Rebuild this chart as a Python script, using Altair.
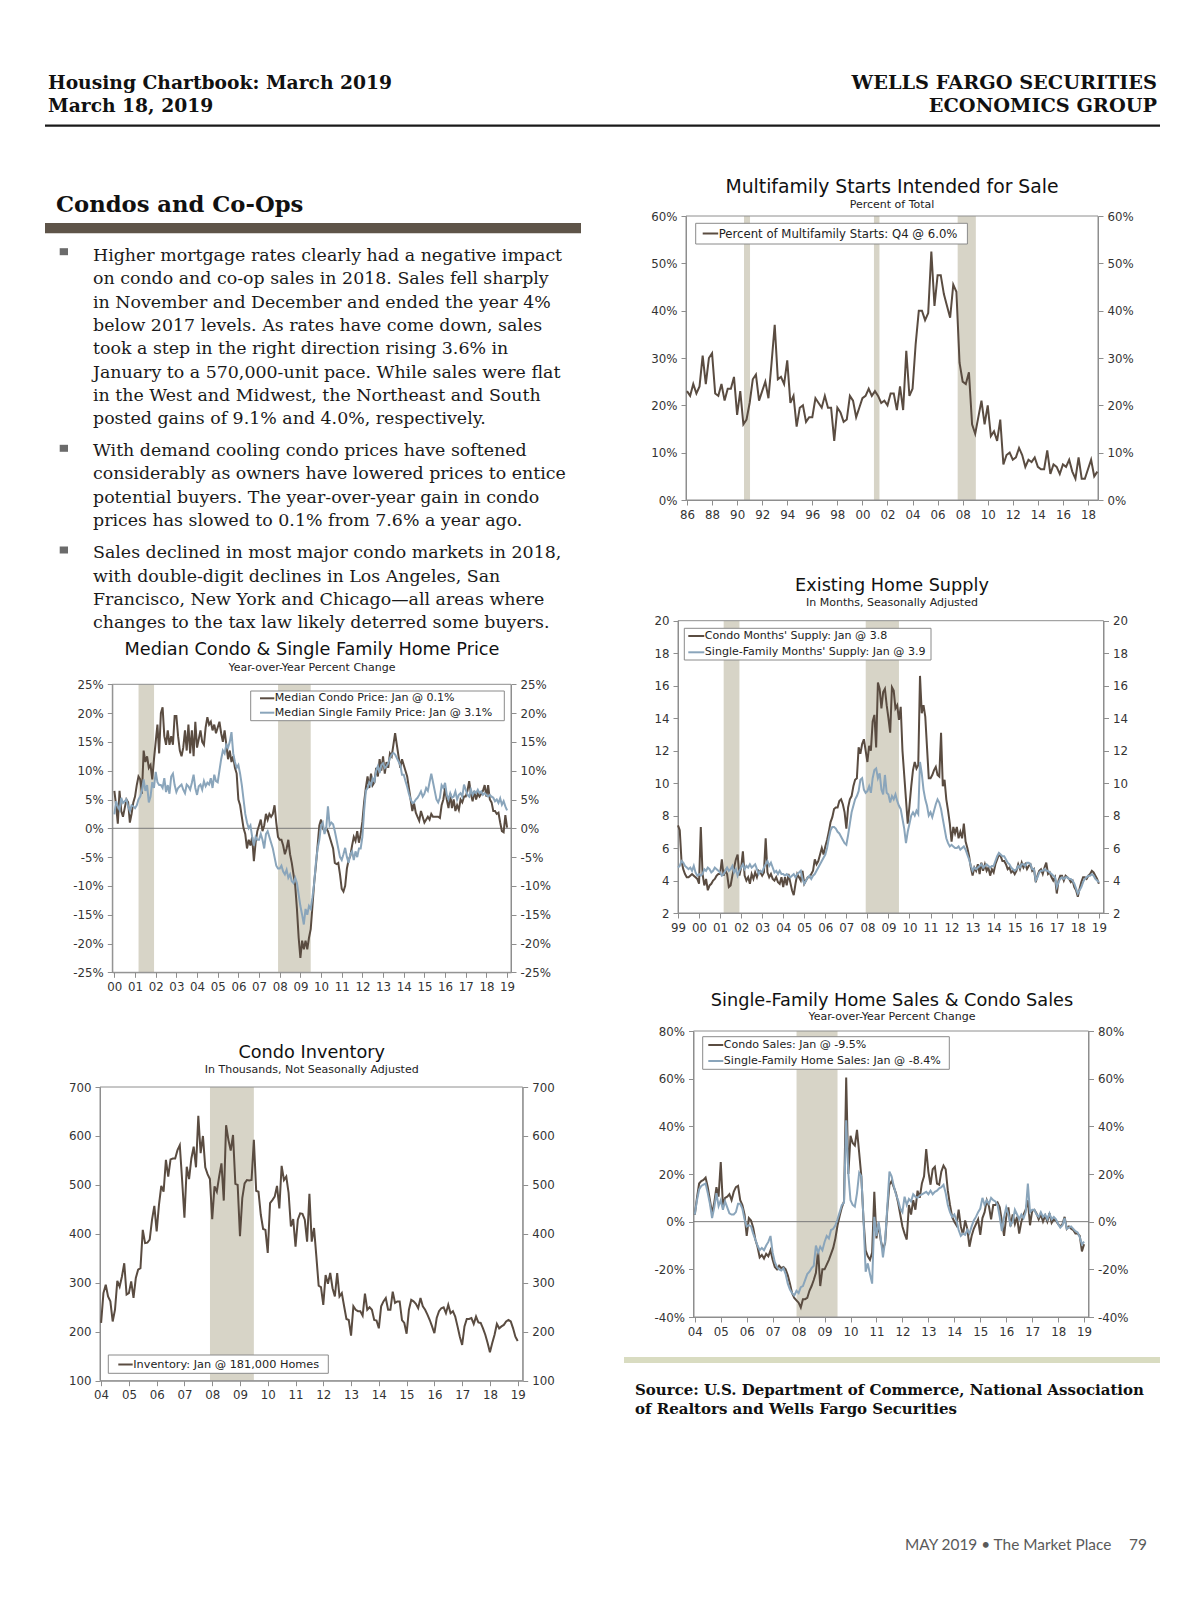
import altair as alt
import pandas as pd

# ------------------------------------------------------------------ data
# Multifamily starts intended for sale, % of total, quarterly 1986Q1-2018Q4
mf_for_sale = [23, 22, 24.5, 22.5, 24, 30.5, 24.5, 30, 31, 22.5,
               22, 24.5, 21, 23.5, 23.5, 26, 18, 23, 16, 17,
               20.5, 25.5, 26.5, 21, 23, 25, 21.5, 29, 37, 25.5,
               26, 24.5, 29.5, 20.5, 22, 15.5, 19.5, 20, 16.5, 17.5,
               17.5, 21.5, 20.5, 19.5, 22, 19.5, 19.5, 12.5, 19.5, 18.5,
               16.5, 17, 22, 21, 17.5, 19.5, 21.5, 22, 23.5, 22,
               23, 22, 20.5, 21, 20, 22.5, 22.5, 19, 24, 19,
               31.5, 22, 23.5, 33, 40, 40, 38, 39.5, 52.5, 41,
               47.5, 47.5, 43.5, 41, 38.5, 45.5, 44, 29, 25, 24.5,
               27, 16, 14, 17.5, 21, 16, 20, 13.5, 14.5, 12.5,
               17, 7.5, 9.5, 10, 8.5, 9, 11, 9.5, 7, 8.5,
               8, 9, 7, 6.5, 6.5, 10.5, 5.5, 7.5, 7, 5.5,
               7.5, 7, 8.5, 6, 4.5, 9, 4.5, 4.5, 6.5, 8.5,
               5, 6]

# Existing home supply, months, monthly 1999-01 .. 2019-01
condo_supply = [7.4, 7.1, 5.2, 4.7, 4.4, 4.2, 4.2, 4.3, 4.4, 4.3, 4.2, 4.1,
                3.8, 7.3, 4.4, 3.7, 4.1, 3.4, 3.7, 3.8, 4.0, 4.1, 4.3, 4.4,
                4.4, 5.3, 4.3, 4.6, 4.4, 3.6, 3.7, 4.3, 4.8, 5.3, 5.6, 4.3,
                4.8, 5.8, 4.3, 4.0, 4.2, 3.8, 4.4, 4.1, 4.5, 4.2, 4.6, 4.5,
                4.3, 4.5, 6.6, 4.5, 4.2, 4.4, 4.1, 4.0, 4.2, 3.9, 3.8, 4.2,
                3.6, 4.2, 3.7, 4.4, 3.9, 3.4, 3.1, 3.8, 4.4, 4.2, 4.0, 4.6,
                3.8, 4.0, 4.2, 4.2, 4.4, 4.6, 5.3, 5.0, 5.2, 5.6, 6.0, 5.6,
                6.1, 6.5, 7.0, 7.6, 7.9, 8.4, 8.5, 8.5, 8.9, 9.0, 8.7, 8.2,
                7.2, 8.5, 9.0, 9.2, 9.8, 10.2, 10.3, 12.2, 11.8, 12.4, 12.7, 12.0,
                11.3, 12.3, 12.0, 13.8, 14.2, 12.2, 16.2, 15.8, 14.6, 15.6, 15.8, 14.8,
                14.0, 13.1, 15.9, 15.7, 14.6, 14.8, 13.9, 14.7, 12.0, 10.5, 9.0, 7.5,
                8.6, 9.8, 10.8, 11.3, 10.9, 11.1, 16.6, 14.3, 14.8, 14.1, 12.2, 10.3,
                10.3, 10.5, 10.8, 11.0, 10.5, 10.4, 13.1, 9.8, 10.2, 9.0, 8.3, 7.5,
                6.4, 7.3, 6.9, 7.3, 6.6, 7.0, 6.6, 7.5, 6.4, 6.0, 5.5, 4.8,
                4.3, 4.8, 4.6, 5.0, 4.4, 5.1, 4.6, 5.0, 4.6, 4.8, 4.3, 4.7,
                4.5, 5.0, 5.3, 5.6, 5.5, 5.2, 5.2, 5.0, 4.7, 4.8, 4.5, 4.6,
                4.4, 4.6, 5.0, 4.7, 5.1, 4.8, 5.0, 4.7, 4.9, 5.0, 4.6, 4.7,
                3.9, 4.3, 4.6, 4.7, 4.4, 4.8, 5.1, 4.4, 4.5, 4.2, 4.0, 4.2,
                3.2, 4.0, 4.3, 4.3, 4.0, 4.3, 4.2, 4.1, 3.9, 4.0, 3.6, 3.4,
                3.0, 3.5, 3.9, 4.2, 4.2, 4.1, 4.3, 4.4, 4.6, 4.5, 4.3, 4.1,
                3.8]
sf_supply = [4.8, 4.9, 5.2, 5.1, 4.9, 4.8, 4.7, 4.8, 4.6, 4.9, 4.5, 4.3,
             4.4, 4.3, 4.4, 4.7, 4.6, 4.8, 4.7, 4.5, 4.6, 4.8, 4.7, 4.6,
             4.5, 4.3, 4.4, 4.6, 4.8, 4.6, 4.7, 4.9, 4.5, 4.7, 4.3, 4.6,
             4.8, 5.0, 4.7, 4.9, 4.8, 5.0, 4.8, 4.9, 5.0, 4.7, 4.4, 4.6,
             4.5, 4.8, 5.0, 5.2, 4.9, 5.1, 4.8, 4.5, 4.6, 4.4, 4.6, 4.4,
             4.4, 4.3, 4.4, 4.3, 4.2, 4.3, 4.4, 4.2, 4.4, 4.5, 4.6, 4.1,
             3.8, 4.0, 4.2, 4.3, 4.1, 4.3, 4.4, 4.6, 4.8, 5.0, 5.2, 5.4,
             5.6, 6.0, 6.6, 7.1, 7.3, 7.3, 7.2, 7.0, 6.9, 6.7, 6.5, 6.3,
             6.2, 6.8, 7.5, 8.2, 8.6, 9.0, 9.2, 9.5, 10.2, 10.3, 9.6, 9.4,
             9.5, 9.8, 9.4, 10.3, 10.8, 10.9, 10.3, 10.6, 9.6, 9.3, 10.5, 9.4,
             9.3, 8.8, 9.2, 9.0, 9.3, 8.9, 8.6, 8.4, 7.8, 7.2, 6.3, 7.0,
             7.5, 8.0, 8.2, 8.0, 8.3, 8.1, 11.3, 10.6, 9.6, 9.0, 8.6, 8.0,
             8.2, 7.9, 8.3, 8.7, 9.0, 8.8, 8.4, 7.8, 7.2, 6.6, 6.3, 6.1,
             6.2, 6.1, 6.0, 6.0, 6.1, 5.9, 6.0, 6.1, 5.9, 5.6, 5.3, 4.9,
             4.6, 4.8, 4.7, 4.8, 4.9, 5.0, 4.8, 4.9, 5.0, 4.9, 4.8, 4.9,
             4.9, 5.2, 5.5, 5.7, 5.6, 5.5, 5.5, 5.3, 5.1, 5.0, 4.8, 4.7,
             4.6, 4.7, 4.9, 4.8, 5.0, 5.0, 4.9, 5.1, 5.1, 5.0, 4.7, 4.7,
             4.0, 4.2, 4.5, 4.6, 4.6, 4.7, 4.6, 4.6, 4.5, 4.4, 4.3, 4.2,
             3.6, 3.9, 4.1, 4.2, 4.1, 4.2, 4.2, 4.1, 4.1, 4.0, 3.8, 3.5,
             3.2, 3.4, 3.6, 3.9, 4.1, 4.2, 4.3, 4.3, 4.4, 4.3, 4.1, 4.0,
             3.9]

# Median price, y/y % change, monthly 2000-01 .. 2019-01
condo_price = [6.5, 4, 0.8, 6.5, 3, 2, 3.5, 5, 4.5, 1, 2.5, 4.5,
               5.5, 7.5, 9, 8.5, 6, 13.5, 11.5, 12.5, 10.5, 11, 8.5, 12,
               15, 18, 13, 20, 21, 16, 14.5, 17, 14.5, 16, 14.5, 19.5,
               19.5, 16, 13.5, 12.5, 14, 17, 13.5, 18, 13, 17, 12.5, 18.5,
               14, 15.5, 17, 15, 14.5, 17.5, 19.3, 18, 18.5, 17, 18, 16.5,
               17.5, 18.5, 16.5, 15, 17, 14.5, 12, 13.5, 11.5, 12.5, 10.5, 9.5,
               5, 4, 2, 0, -1, -3.5, -2, -3, -1.5, -5.7, -2.5, -0.5,
               0.5, 1.5, -0.5, 0.5, 2.5, 1.5, 2.5, 2, 2.5, 4, 1, -1.5,
               -2, -2, -3, -4.5, -3.5, -2, -4.5, -6, -8, -10, -14, -19,
               -22.5, -19.5, -21, -19.5, -21, -19, -17.5, -13.5, -9.5, -6.5, -3, 0.5,
               1.5, 0, -0.5, 0, -0.5, -1.5, -2.5, -3.5, -6, -6.2, -6, -8,
               -10.5, -11, -10, -7, -5.5, -4.8, -3, -1.5, -2.2, -0.5, -2.5, -1,
               1.2, 4.5, 7, 9, 7, 9.5, 7.5, 8, 10.5, 9, 12, 10,
               12.5, 9.5, 11.5, 10.5, 13, 12.5, 14.5, 16.5, 14.5, 12.5, 10.5, 12,
               11, 10, 9, 7, 5, 3, 4.3, 2.7, 2, 1.3, 3, 2,
               1, 1.5, 2, 1.5, 2.5, 2, 2, 2, 2, 1.8, 4, 5,
               7, 5, 3.5, 6, 3.5, 5, 3, 4, 3.2, 5, 4.5, 5.5,
               5.5, 6.5, 8.2, 6, 4.7, 6.5, 5, 6, 5.5, 6, 6.5, 7.5,
               5.5, 7.5, 5, 4.5, 3, 3, 2.5, 2.7, 1, -0.5, -0.7, 2.3,
               0.1]
sf_price = [2.4, 4.7, 3.8, 3.2, 5.3, 4.4, 4.7, 5, 3.8, 3, 4, 3.8,
            3.5, 4, 5, 5.5, 6.5, 8.5, 6.5, 7.5, 4.5, 5.5, 8, 7,
            9.8, 8, 7.5, 7.5, 7, 8.7, 6.3, 7.5, 6, 9, 9.5, 7.5,
            6.3, 7, 7.3, 7.6, 6.7, 6.1, 7.6, 7.3, 6.7, 7.9, 9.3, 7,
            5.8, 7.3, 7.6, 6.7, 8.2, 7.3, 7.9, 7.6, 8.7, 7, 9.3, 8.2,
            8, 10, 12, 13.5, 13, 14.5, 14, 15, 16.7, 13, 11.5, 10.5,
            11, 9.5, 7.5, 5, 2.5, 1, 0, 0.5, -1.5, -3, -1.5, -2,
            -2, -1, -2, -3.5, -1, -0.5, -1.5, -2.5, -3.5, -5, -6.5, -7,
            -7, -6.5, -7.5, -8, -7.2, -8.6, -8, -9.2, -9.5, -8.6, -9.5, -11.5,
            -13.5, -15, -16.7, -14, -15, -13.5, -14, -12, -9.5, -6, -3.5, -2,
            0.5, 1, -1, 0, 3.8, 0.5, 1, 0.7, -0.5, -2, -3.5, -5,
            -5.5, -4.5, -3.4, -5, -6, -4.5, -4, -5.5, -4, -5, -3.5, -3.5,
            -1.5, 3, 6.5, 7, 8, 7.5, 8.7, 8.2, 10, 10.8, 9.6, 11,
            11.3, 10.5, 10.8, 11.3, 12.2, 12.8, 13.1, 12.8, 12.2, 11.6, 11, 9.3,
            9.3, 8.2, 7.2, 6, 5, 4.4, 4.5, 5, 5.3, 5.8, 6.4, 5.5,
            6, 7, 6.5, 8, 9.5, 8, 6.5, 5, 4.5, 5.3, 7.5, 7,
            7.9, 5.8, 5, 6.1, 5.3, 5.5, 6.4, 5, 5.8, 6.1, 5.5, 7.6,
            6.7, 5.8, 5.5, 6.7, 5.8, 6.4, 6.1, 6.7, 6.1, 6.4, 5.8, 6.1,
            5.8, 5.5, 5.8, 5.5, 5.3, 4.7, 5, 4.4, 5.2, 4.1, 4.7, 3.8,
            3.1]

# Condo inventory, thousands, monthly 2004-01 .. 2019-01
condo_inventory = [218, 279, 296, 272, 262, 221, 245, 304, 292, 313, 340, 276,
                   279, 303, 269, 310, 327, 330, 408, 381, 382, 388, 429, 457,
                   405, 459, 498, 486, 551, 517, 552, 554, 554, 571, 581, 510,
                   433, 537, 512, 554, 578, 536, 641, 565, 600, 536, 522, 512,
                   430, 497, 486, 517, 544, 468, 622, 592, 570, 602, 502, 500,
                   395, 473, 503, 510, 509, 510, 592, 488, 486, 439, 410, 408,
                   361, 463, 469, 476, 498, 452, 539, 510, 517, 484, 415, 430,
                   374, 429, 442, 441, 429, 384, 482, 384, 412, 354, 294, 291,
                   255, 316, 298, 320, 289, 272, 320, 272, 279, 252, 226, 224,
                   192, 252, 245, 242, 242, 233, 278, 245, 250, 245, 224, 223,
                   207, 252, 262, 269, 245, 245, 282, 259, 262, 262, 224, 218,
                   196, 245, 265, 262, 257, 248, 269, 252, 245, 235, 224, 211,
                   197, 228, 242, 248, 250, 238, 255, 238, 242, 231, 211, 190,
                   173, 211, 226, 226, 228, 216, 231, 219, 218, 207, 194, 177,
                   158, 177, 194, 216, 207, 211, 214, 221, 224, 221, 207, 190,
                   181]

# Sales, y/y % change, monthly 2004-01 .. 2019-01
condo_sales = [3, 10, 16, 17, 17.5, 18.5, 14.5, 9, 3.5, 8, 14.5, 10.5,
               25, 7, 10, 10.5, 11.5, 9, 12.5, 14.5, 15, 9, 7, 3,
               -6, 1.5, 0.5, -2.5, -7.5, -10.5, -15, -14, -15.5, -13.5, -14.5, -12,
               -16, -19, -20, -18.5, -19.5, -19, -20, -22.5, -26, -30, -32, -33,
               -34, -36, -32.5, -32.5, -32, -29, -27, -24.5, -21.5, -12, -27, -20,
               -20, -18, -16, -13.5, -11, -7, -1.5, 2.5, 6, 8.5, 60.5, 20,
               36, 33, 32, 38.5, 29, 19, 1, -12, -14.5, -16, -13, 12.5,
               -7, -1, -8, -11.5, -9, 5, 15.5, 17, 14.5, 12, 8, 3,
               -2, -5, -7.5, 7, 3, 9, 5, 13, 10, 16, 19, 30.5,
               21, 15.5, 22, 23, 16, 15.5, 21, 23.5, 22, 13, 7, 2,
               0, -1.5, 5, -2, -5.5, 0.5, -3, -10.5, -6, -3, -1, 1,
               -5.5, 1.5, 4, 9, 6.5, 1, 7, 7, 8, 6, 0, -6,
               2, 6, -2, 3, -1, 2, -5, 0, 3, 5, 9, -1.5,
               4.5, 5, 3.5, 1, 3, 0, 2.5, 0, 3.5, -0.5, 1, 0.5,
               -1, -2, -1, 2, -3, -2, -3, -3.5, -5, -5, -6, -12.5,
               -9.5]
sf_sales = [3, 9, 13.5, 15, 15.5, 16, 12, 7.5, 1.5, 6, 12, 6.5,
            9, 5, 8.5, 6, 3.5, 3, 3, 4, 7.5, 7.5, 5.5, 1,
            -2, -1.5, -2, -5, -7.5, -10, -12, -11, -12, -10, -8.5, -6,
            -13, -17, -19, -20, -20.5, -19.5, -22, -26, -28.5, -30, -31, -29,
            -30, -27.5, -27, -24.5, -22, -21, -19.5, -18.5, -10, -13, -10.5, -12,
            -8.5, -6, -7, -3.5, -3, -1.5, 1, 4, 7, 8, 42.5, 20,
            9, 7, 6.3, 12, 20.5, 19, 1, -21, -17.5, -22, -26, 2,
            -6, 0, -7, -15, -8, 6, 21, 19, 15, 11.5, 9, 5.5,
            4, 10.5, 7, 9.5, 8.5, 11.5, 10.5, 10, 11, 11.5, 12, 12.5,
            11.5, 13, 11.5, 12.5, 13, 14, 14.5, 15.5, 12, 7, 4, 2,
            3, 0.5, -3.5, -6, -5, -5.5, -3.5, -5, -2, 0.5, 2, 4,
            5.5, 10, 7, 9, 7.5, 10, 9, 8.5, 7, 2, -4, 2,
            6, 3, -1.5, 0, 5, 3, 1, 3, 1.5, 4, 16, 4,
            5, 5, 3, 2, 4, 2, 3, 1, 3.5, 1, 2, 1,
            -1, -2.5, -1.5, 1.5, -3, -2.5, -2, -3, -4, -4.5, -6.5, -9.5,
            -8.4]

# Recession shading (start, end) in fractional years
rec_quarterly = [(1990.55, 1991.03), (2000.92, 2001.36), (2007.6, 2009.05)]
rec_monthly = [(2001.17, 2001.92), (2007.92, 2009.5)]
rec_monthly_04 = [(2007.92, 2009.5)]

# Text
header_left = ["Housing Chartbook: March 2019", "March 18, 2019"]
header_right = ["WELLS FARGO SECURITIES", "ECONOMICS GROUP"]
section_title = "Condos and Co-Ops"
paragraphs = [
    ["Higher mortgage rates clearly had a negative impact",
     "on condo and co-op sales in 2018. Sales fell sharply",
     "in November and December and ended the year 4%",
     "below 2017 levels. As rates have come down, sales",
     "took a step in the right direction rising 3.6% in",
     "January to a 570,000-unit pace. While sales were flat",
     "in the West and Midwest, the Northeast and South",
     "posted gains of 9.1% and 4.0%, respectively."],
    ["With demand cooling condo prices have softened",
     "considerably as owners have lowered prices to entice",
     "potential buyers. The year-over-year gain in condo",
     "prices has slowed to 0.1% from 7.6% a year ago."],
    ["Sales declined in most major condo markets in 2018,",
     "with double-digit declines in Los Angeles, San",
     "Francisco, New York and Chicago\u2014all areas where",
     "changes to the tax law likely deterred some buyers."],
]
source_lines = ["Source: U.S. Department of Commerce, National Association",
                "of Realtors and Wells Fargo Securities"]
footer_text = "MAY 2019 \u2022 The Market Place"
footer_page = "79"

# ------------------------------------------------------------------ style
W, H = 1184, 1590
M = 8
SANS = "DejaVu Sans"
SERIF = "DejaVu Serif"
DARK = "#5a4c41"
BLUE = "#8aa5bb"
REC = "#d7d4c7"
AXC = "#8e8e8e"
LBL = "#333333"
TITLE_SIZE = 17.7
SUB_SIZE = 11
LEG_SIZE = 11.05
AXIS_SIZE = 11.8

one = pd.DataFrame({"k": [0]})


def T(x, y, s, size, font=SANS, weight="normal", align="left", color="#111111"):
    return alt.Chart(one).mark_text(
        align=align, baseline="middle", font=font, fontSize=size,
        fontWeight=weight, color=color
    ).encode(x=alt.value(x - M), y=alt.value(y - M), text=alt.value(s))


def BOX(x0, y0, x1, y1, fill, stroke=""):
    props = {"fill": fill}
    if stroke:
        props.update(stroke=stroke, strokeWidth=1)
    return alt.Chart(one).mark_rect(**props).encode(
        x=alt.value(x0 - M), x2=alt.value(x1 - M),
        y=alt.value(y0 - M), y2=alt.value(y1 - M))


def RULE(x0, x1, y, color, width):
    return alt.Chart(one).mark_rule(color=color, strokeWidth=width).encode(
        x=alt.value(x0 - M), x2=alt.value(x1 - M), y=alt.value(y - M))


def LEGEND(box, rows, size=LEG_SIZE):
    out = [BOX(*box, fill="white", stroke="#8a8a8a")]
    for y, lx0, lx1, lab, col in rows:
        out.append(RULE(lx0, lx1, y, col, 2))
        out.append(T(lx1 + 0.5, y, lab, size, color="#222222"))
    return out


def series_df(values, start, step):
    return pd.DataFrame({"t": [start + i * step for i in range(len(values))],
                         "v": values})


def panel(xdom, ydom, xpage, ypage, xvals, yvals, ylab, recs, series, zero=False):
    xr = [xpage[0] - M, xpage[1] - M]
    yr = [ypage[0] - M, ypage[1] - M]  # bottom, top
    xs = alt.Scale(domain=xdom, range=xr, nice=False, zero=False)
    ys = alt.Scale(domain=ydom, range=yr, nice=False, zero=False)
    common = dict(domainColor=AXC, tickColor=AXC, labelColor=LBL, labelFont=SANS,
                  labelFontSize=AXIS_SIZE, tickSize=5, labelPadding=4, grid=False,
                  title=None, labelOverlap=False, labelFlush=False,
                  domainWidth=1, tickWidth=1)
    left = alt.Axis(orient="left", offset=-xr[0], values=yvals, labelExpr=ylab, **common)
    right = alt.Axis(orient="right", offset=xr[1] - W, values=yvals, labelExpr=ylab, **common)
    bottom = alt.Axis(orient="bottom", offset=yr[0] - H, values=xvals,
                      labelExpr="substring(toString(datum.value), 2, 4)", **common)
    rec_df = pd.DataFrame({"s": [r[0] for r in recs], "e": [r[1] for r in recs],
                           "lo": [ydom[0]] * len(recs), "hi": [ydom[1]] * len(recs)})
    layers = [alt.Chart(rec_df).mark_rect(color=REC).encode(
        x=alt.X("s:Q", scale=xs, axis=bottom), x2="e:Q",
        y=alt.Y("lo:Q", scale=ys, axis=left), y2="hi:Q")]
    frame = pd.DataFrame({"x0": [xdom[0]], "x1": [xdom[1]], "y0": [ydom[0]], "y1": [ydom[1]]})
    layers.append(alt.Chart(frame).mark_rect(fill="transparent", stroke=AXC, strokeWidth=1).encode(
        x=alt.X("x0:Q", scale=xs, axis=None), x2="x1:Q",
        y=alt.Y("y0:Q", scale=ys, axis=right), y2="y1:Q"))
    if zero:
        zdf = pd.DataFrame({"x0": [xdom[0]], "x1": [xdom[1]], "y": [0]})
        layers.append(alt.Chart(zdf).mark_rule(color="#7a7a7a", strokeWidth=1).encode(
            x=alt.X("x0:Q", scale=xs, axis=None), x2="x1:Q",
            y=alt.Y("y:Q", scale=ys, axis=None)))
    for df, col in series:
        layers.append(alt.Chart(df).mark_line(color=col, strokeWidth=2).encode(
            x=alt.X("t:Q", scale=xs, axis=None),
            y=alt.Y("v:Q", scale=ys, axis=None)))
    return alt.layer(*layers).resolve_axis(x="independent", y="independent")


PCT = "datum.value + '%'"
PLAIN = "toString(datum.value)"

layers = []

# ------------------------------------------------------------------ page text
layers.append(T(48, 83, header_left[0], 18.7, SERIF, "bold"))
layers.append(T(48, 106, header_left[1], 18.7, SERIF, "bold"))
layers.append(T(1157, 83, header_right[0], 19.3, SERIF, "bold", "right"))
layers.append(T(1157, 106, header_right[1], 19.3, SERIF, "bold", "right"))
layers.append(RULE(45, 1160, 125.6, "#1a1a1a", 2.2))

layers.append(T(56, 205, section_title, 22.7, SERIF, "bold"))
layers.append(BOX(45, 223, 581, 233.3, "#5e5449"))

para_tops = [256, 451, 553.3]
bullet_ys = [251.7, 448.3, 550]
for p, lines in enumerate(paragraphs):
    layers.append(BOX(59.7, bullet_ys[p] - 3.5, 68, bullet_ys[p] + 3.5, "#6b6b6b"))
    for i, line in enumerate(lines):
        layers.append(T(93, para_tops[p] + i * 23.35, line, 17.4, SERIF, "normal", "left", "#1a1a1a"))

# ------------------------------------------------------------------ chart A
layers.append(T(892, 186.7, "Multifamily Starts Intended for Sale", 18.8, align="center"))
layers.append(T(892, 205, "Percent of Total", SUB_SIZE, align="center", color="#222222"))
layers.append(panel([1985.92, 2018.8], [0, 60], [686, 1098], [500, 216],
                    list(range(1986, 2019, 2)), list(range(0, 61, 10)), PCT,
                    rec_quarterly, [(series_df(mf_for_sale, 1986, 0.25), DARK)]))
layers += LEGEND((695.7, 223.3, 967.4, 244),
                 [(233.5, 702.7, 718.2, "Percent of Multifamily Starts: Q4 @ 6.0%", DARK)],
                 size=11.7)

# ------------------------------------------------------------------ chart B
layers.append(T(892, 586, "Existing Home Supply", TITLE_SIZE, align="center"))
layers.append(T(892, 603.3, "In Months, Seasonally Adjusted", SUB_SIZE, align="center", color="#222222"))
layers.append(panel([1999.0, 2019.22], [2, 20], [678, 1103.5], [913, 620.7],
                    list(range(1999, 2020)), list(range(2, 21, 2)), PLAIN,
                    rec_monthly, [(series_df(condo_supply, 1999, 1 / 12), DARK),
                                  (series_df(sf_supply, 1999, 1 / 12), BLUE)]))
layers += LEGEND((684.3, 628.3, 931, 660),
                 [(636, 688.3, 704.3, "Condo Months' Supply: Jan @ 3.8", DARK),
                  (652.3, 688.3, 704.3, "Single-Family Months' Supply: Jan @ 3.9", BLUE)])

# ------------------------------------------------------------------ chart C
layers.append(T(312, 650, "Median Condo & Single Family Home Price", TITLE_SIZE, align="center"))
layers.append(T(312, 667.7, "Year-over-Year Percent Change", SUB_SIZE, align="center", color="#222222"))
layers.append(panel([1999.9, 2019.19], [-25, 25], [112.3, 511], [972.3, 684.3],
                    list(range(2000, 2020)), list(range(-25, 26, 5)), PCT,
                    rec_monthly, [(series_df(condo_price, 2000, 1 / 12), DARK),
                                  (series_df(sf_price, 2000, 1 / 12), BLUE)], zero=True))
layers += LEGEND((250.7, 691, 504.3, 720.7),
                 [(698.3, 260, 274.3, "Median Condo Price: Jan @ 0.1%", DARK),
                  (712.7, 260, 274.3, "Median Single Family Price: Jan @ 3.1%", BLUE)])

# ------------------------------------------------------------------ chart D
layers.append(T(311.7, 1053.3, "Condo Inventory", TITLE_SIZE, align="center"))
layers.append(T(311.7, 1070, "In Thousands, Not Seasonally Adjusted", SUB_SIZE, align="center", color="#222222"))
layers.append(panel([2003.96, 2019.18], [100, 700], [100, 522.7], [1380.7, 1087],
                    list(range(2004, 2020)), list(range(100, 701, 100)), PLAIN,
                    rec_monthly_04, [(series_df(condo_inventory, 2004, 1 / 12), DARK)]))
layers += LEGEND((108.3, 1355, 328.3, 1373.3),
                 [(1364.5, 118.3, 132.7, "Inventory: Jan @ 181,000 Homes", DARK)],
                 size=11.3)

# ------------------------------------------------------------------ chart E
layers.append(T(892, 1000.7, "Single-Family Home Sales & Condo Sales", TITLE_SIZE, align="center"))
layers.append(T(892, 1016.7, "Year-over-Year Percent Change", SUB_SIZE, align="center", color="#222222"))
layers.append(panel([2003.95, 2019.17], [-40, 80], [693.5, 1088.5], [1317, 1031],
                    list(range(2004, 2020)), list(range(-40, 81, 20)), PCT,
                    rec_monthly_04, [(series_df(condo_sales, 2004, 1 / 12), DARK),
                                     (series_df(sf_sales, 2004, 1 / 12), BLUE)], zero=True))
layers += LEGEND((702.7, 1036.7, 949.3, 1069.3),
                 [(1045, 708.3, 723.3, "Condo Sales: Jan @ -9.5%", DARK),
                  (1061, 708.3, 723.3, "Single-Family Home Sales: Jan @ -8.4%", BLUE)])

# ------------------------------------------------------------------ source + footer
layers.append(BOX(624, 1357, 1160, 1363, "#d9dcc1"))
layers.append(T(635, 1390, source_lines[0], 15, SERIF, "bold"))
layers.append(T(635, 1409, source_lines[1], 15, SERIF, "bold"))
layers.append(T(905, 1545, footer_text, 15.4, "Lato", "normal", "left", "#5a5a5a"))
layers.append(T(1129, 1545, footer_page, 15.4, "Lato", "normal", "left", "#5a5a5a"))

chart = alt.layer(*layers).resolve_scale(
    x="independent", y="independent"
).properties(
    width=W, height=H, padding=0
).configure_view(stroke="transparent")

chart.save("out.html", embed_options={"renderer": "svg", "actions": False})
